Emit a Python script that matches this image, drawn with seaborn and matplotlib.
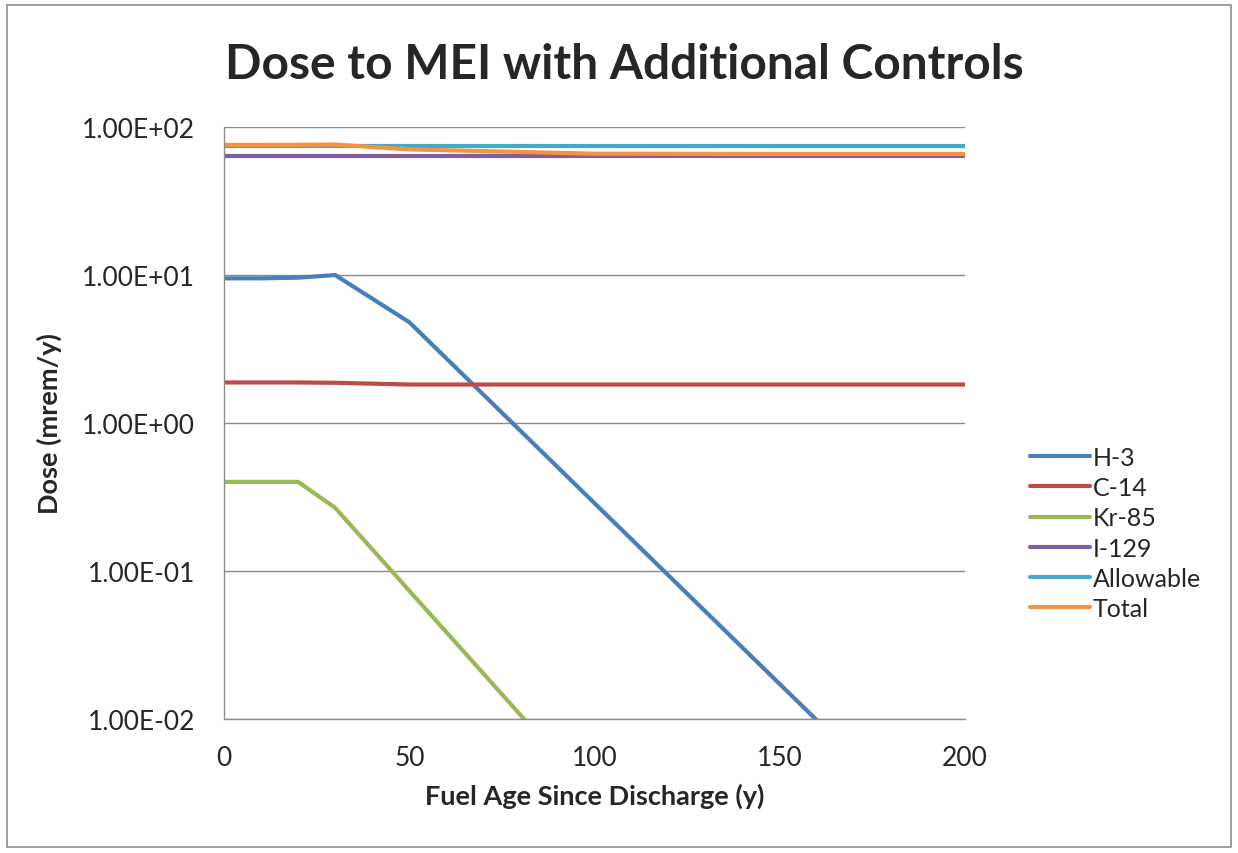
import matplotlib
matplotlib.use("Agg")
import matplotlib.pyplot as plt
import numpy as np
import pandas as pd
import seaborn as sns
from matplotlib.patches import Rectangle

# fuel age (y)
age = [0, 10, 20, 30, 50, 100, 150, 200]

# dose (mrem/y) by nuclide
h3 = [9.5, 9.5, 9.6, 10.0, 4.8, 0.287, 0.0172, 0.00103]
c14 = [1.88, 1.88, 1.88, 1.87, 1.82, 1.82, 1.82, 1.82]
kr85 = [0.40, 0.40, 0.40, 0.267, 0.0735, 0.00293, 0.000117, 0.0000047]
i129 = [64, 64, 64, 64, 64, 64, 64, 64]
allowable = [75, 75, 75, 75, 75, 75, 75, 75]
total = [75.8, 75.8, 75.9, 76.2, 70.7, 66.1, 65.8, 65.8]

names = ["H-3", "C-14", "Kr-85", "I-129", "Allowable", "Total"]
colors = ["#4A7EBB", "#BE4B48", "#98B954", "#7D60A0", "#46AAC5", "#F69240"]

df = pd.concat([
    pd.DataFrame({"age": age, "dose": vals, "series": n})
    for n, vals in zip(names, [h3, c14, kr85, i129, allowable, total])
])

sns.set_style("white")
plt.rcParams["font.family"] = ["Lato", "DejaVu Sans"]

fig = plt.figure(figsize=(12.38, 8.54), dpi=100)
ax = fig.add_axes([0.181, 0.157, 0.5985, 0.693])

sns.lineplot(data=df, x="age", y="dose", hue="series", hue_order=names,
             palette=dict(zip(names, colors)), linewidth=3.0, ax=ax)

ax.set_yscale("log")
ax.set_ylim(1e-2, 1e2)
ax.set_xlim(0, 200)
ax.set_xticks([0, 50, 100, 150, 200])
ax.set_yticks([1e-2, 1e-1, 1e0, 1e1, 1e2])
ax.set_yticklabels(["1.00E-02", "1.00E-01", "1.00E+00", "1.00E+01", "1.00E+02"])
ax.yaxis.set_minor_locator(matplotlib.ticker.NullLocator())
ax.grid(axis="y", color="#8c8c8c", linewidth=1.0)
ax.set_axisbelow(True)

for s in ["top", "right"]:
    ax.spines[s].set_visible(False)
for s in ["left", "bottom"]:
    ax.spines[s].set_color("#8c8c8c")
    ax.spines[s].set_linewidth(1.0)
ax.tick_params(axis="both", which="major", direction="out", length=5,
               color="#8c8c8c", labelsize=19)
ax.tick_params(axis="y", pad=16)
ax.tick_params(axis="x", pad=14)

ax.set_xlabel("Fuel Age Since Discharge (y)", fontsize=19.5, fontweight="bold", labelpad=9)
ax.set_ylabel("Dose (mrem/y)", fontsize=19.5, fontweight="bold", labelpad=14)
fig.text(0.504, 0.924, "Dose to MEI with Additional Controls", ha="center", va="center",
         fontsize=34.5, fontweight="bold")

ax.legend(loc="center left", bbox_to_anchor=(1.058, 0.314), frameon=False, fontsize=18,
          handlelength=2.4, handletextpad=0.1, labelspacing=0.29)

fig.patches.append(Rectangle((0.006, 0.007), 0.988, 0.986, transform=fig.transFigure,
                             fill=False, edgecolor="#8c8c8c", linewidth=1.2))

fig.savefig("out.png", dpi=100)
